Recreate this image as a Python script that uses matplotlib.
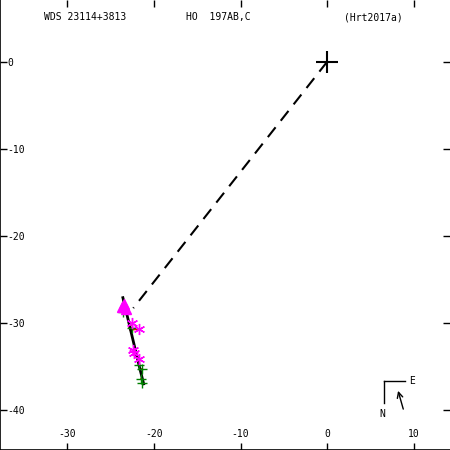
import matplotlib
matplotlib.use("Agg")
import matplotlib.pyplot as plt

# Orbit segment (approx. arc through the observed positions)
orbit_x = [-23.6, -23.0, -22.4, -21.8, -21.2]
orbit_y = [-27.1, -29.6, -32.1, -34.6, -37.0]

# Observations
tri_x = [-23.5, -23.2, -23.7]
tri_y = [-27.8, -28.4, -28.2]
ast_x = [-22.5, -21.7, -22.4, -22.3, -21.7]
ast_y = [-30.0, -30.7, -33.1, -33.4, -34.1]
plus_x = [-23.6, -22.5, -21.7, -21.4, -21.5, -21.4]
plus_y = [-28.7, -30.6, -34.8, -35.3, -36.4, -36.9]
# predicted positions on orbit for residual lines
pred_tri = [(-23.45, -27.6), (-23.3, -28.3), (-23.35, -28.1)]
pred_ast = [(-22.85, -30.5), (-22.75, -30.8), (-22.15, -33.0), (-22.05, -33.4), (-21.9, -34.1)]
pred_plus = [(-23.35, -28.6), (-22.75, -30.6), (-21.75, -34.8), (-21.6, -35.3), (-21.35, -36.4), (-21.25, -36.9)]

# Dashed line from primary to current position
dash_x = [0.0, -22.4]
dash_y = [0.0, -28.3]

xticks = [-30, -20, -10, 0, 10]
yticks = [0, -10, -20, -30, -40]

fig = plt.figure(figsize=(4.5, 4.5), dpi=100)
ax = fig.add_axes([0, 0, 1, 1])
ax.set_xlim(-37.8, 14.2)
ax.set_ylim(-44.6, 7.1)

# residual lines
for (ox, oy), (px, py) in zip(zip(tri_x, tri_y), pred_tri):
    ax.plot([ox, px], [oy, py], color='red', lw=1.2)
for (ox, oy), (px, py) in zip(zip(ast_x, ast_y), pred_ast):
    ax.plot([ox, px], [oy, py], color='red', lw=1.2)
for (ox, oy), (px, py) in zip(zip(plus_x, plus_y), pred_plus):
    ax.plot([ox, px], [oy, py], color='red', lw=1.2)

ax.plot(orbit_x, orbit_y, color='black', lw=2)
ax.plot(dash_x, dash_y, color='black', lw=1.5, dashes=(6, 4))
ax.plot([0], [0], marker='+', color='black', markersize=16, mew=1.5)

ax.plot(plus_x, plus_y, '+', color='green', markersize=7, mew=1.0, ls='none')
ax.plot(ast_x, ast_y, marker=(6, 2, 0), color='magenta', markersize=8, mew=1.0, ls='none')
ax.plot(tri_x, tri_y, '^', color='magenta', markersize=7, ls='none')

# compass
cx, cy = 6.6, -36.7
ax.plot([cx, 9.0], [cy, cy], color='black', lw=1)
ax.plot([cx, cx], [cy, -39.2], color='black', lw=1)
ax.text(9.8, cy, 'E', fontsize=7, family='DejaVu Sans Mono', ha='center', va='center')
ax.text(6.4, -40.5, 'N', fontsize=7, family='DejaVu Sans Mono', ha='center', va='center')
ax.annotate('', xy=(8.2, -37.8), xytext=(8.8, -39.9),
            arrowprops=dict(arrowstyle='->', color='black', lw=1, shrinkA=0, shrinkB=0))

# titles
ax.text(0.19, 0.962, 'WDS 23114+3813', transform=ax.transAxes, fontsize=7,
        family='DejaVu Sans Mono', ha='center', va='center')
ax.text(0.485, 0.962, 'HO  197AB,C', transform=ax.transAxes, fontsize=7,
        family='DejaVu Sans Mono', ha='center', va='center')
ax.text(0.83, 0.962, '(Hrt2017a)', transform=ax.transAxes, fontsize=7,
        family='DejaVu Sans Mono', ha='center', va='center')

ax.set_xticks(xticks)
ax.set_yticks(yticks)
ax.set_xticklabels([str(t) for t in xticks], family='DejaVu Sans Mono', fontsize=7)
ax.set_yticklabels([str(t) for t in yticks], family='DejaVu Sans Mono', fontsize=7)
ax.tick_params(axis='both', direction='in', length=5, width=1,
               top=True, right=True, labeltop=False, labelright=False)
ax.tick_params(axis='x', pad=-15)
ax.tick_params(axis='y', pad=-5)
for lab in ax.get_yticklabels():
    lab.set_ha('left')
for s in ax.spines.values():
    s.set_linewidth(1.2)
ax.spines['top'].set_visible(False)
ax.spines['right'].set_visible(False)

fig.savefig('out.png', dpi=100)
